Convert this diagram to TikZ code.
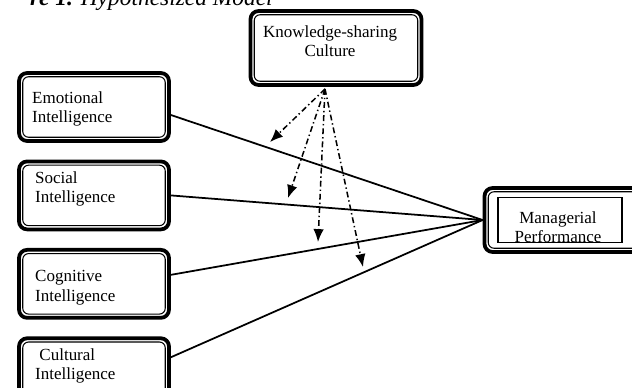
\documentclass[tikz,border=0pt]{standalone}
\usepackage{fontspec}
\setmainfont{Liberation Serif}
\usetikzlibrary{arrows.meta,positioning}

\tikzset{
  varbox/.style={draw, fill=white, rounded corners=7pt, line width=3.2pt,
    path picture={\draw [line width=0.9pt, rounded corners=5pt]
      ([shift={(3.2pt,-3.2pt)}]path picture bounding box.north west) rectangle
      ([shift={(-3.2pt,3.2pt)}]path picture bounding box.south east);},
    minimum width=4.5cm, minimum height=2.04cm, inner sep=0pt},
  vartext/.style={anchor=north west, inner sep=0pt, align=left,
    font=\fontsize{14.5}{17}\selectfont},
  link/.style={line width=1.5pt},
  modlink/.style={-{Latex[length=11pt,width=9pt]}, line width=1.3pt,
    dash pattern=on 5pt off 2.5pt on 1.2pt off 2.5pt}
}

\begin{document}
\begin{tikzpicture}[x=0.03cm, y=-0.03cm]
            \clip (0,0) rectangle (632,388);
            % caption, cut off at the top edge
            \node (cap) [anchor=base east, inner sep=0pt, font=\fontsize{20}{24}\selectfont] at (273,5) {\textbf{\textit{re 1.}} \textit{Hypothesized Model}} {};

            \node (ksc) [varbox, minimum width=5.13cm, minimum height=2.22cm] at (336,48) {} {};
            \node (emo) [varbox] at (94,107) {} {};
            \node (soc) [varbox, below=0.5cm of emo] {} {};
            \node (cog) [varbox, below=0.5cm of soc] {} {};
            \node (cul) [varbox, below=0.5cm of cog] {} {};
            \node (mp)  [varbox, minimum width=4.95cm, minimum height=1.92cm] at (567,220) {} {};
            \node (mpin) [draw, line width=1.2pt, minimum width=3.72cm, minimum height=1.35cm, inner sep=0pt] at (560,220) {} {};

            \node (ksctxt) [vartext, anchor=north, align=center] at (330,25) {Knowledge-sharing\\Culture} {};
            \node (emotxt) [vartext] at (32,91) {Emotional\\Intelligence} {};
            \node (soctxt) [vartext] at (35,171) {Social\\Intelligence} {};
            \node (cogtxt) [vartext] at (35,270) {Cognitive\\Intelligence} {};
            \node (cultxt) [vartext] at (35,348) {\ Cultural\\Intelligence} {};
            \node (mptxt) [vartext, anchor=north, align=center] at (558,211) {Managerial\\Performance} {};

            \draw [link] ([yshift=-0.24cm]emo.east) -- (mp.west);
            \draw [link] (soc.east) -- (mp.west);
            \draw [link] ([yshift=0.27cm]cog.east) -- (mp.west);
            \draw [link] ([yshift=0.45cm]cul.east) -- (mp.west);

            \coordinate (src) at (325,89);
            \coordinate (t1) at (270,142);
            \coordinate (t2) at (288,198);
            \coordinate (t3) at (318,242);
            \coordinate (t4) at (363,267);
            \draw [modlink] (src) -- (t1);
            \draw [modlink] (src) -- (t2);
            \draw [modlink] (src) -- (t3);
            \draw [modlink] (src) -- (t4);

        \end{tikzpicture}
\end{document}
